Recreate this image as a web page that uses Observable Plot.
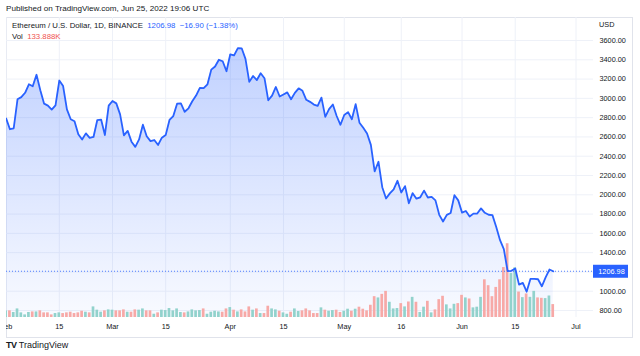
<!DOCTYPE html>
<html><head><meta charset="utf-8">
<script src="https://cdn.jsdelivr.net/npm/d3@7"></script>
<script src="https://cdn.jsdelivr.net/npm/@observablehq/plot@0.6"></script>
<style>
html,body{margin:0;padding:0;background:#fff;}
body{width:640px;height:356px;position:relative;overflow:hidden;font-family:"Liberation Sans",Arial,sans-serif;color:#131722;}
.t{position:absolute;white-space:nowrap;line-height:1;}
#frame{position:absolute;left:6px;top:17px;width:627px;height:321px;border:1px solid #e0e3eb;box-sizing:border-box;}
#chart{position:absolute;left:6px;top:0;}
</style></head><body>
<div id="frame"></div>
<div id="chart"></div>
<div class="t" style="left:6px;top:5px;font-size:8.1px;">Published on TradingView.com, Jun 25, 2022 19:06 UTC</div>
<div class="t" style="left:12px;top:22px;font-size:7.8px;">Ethereum / U.S. Dollar, 1D, BINANCE&nbsp;&nbsp;<span style="color:#2962ff">1206.98&nbsp;&nbsp;−16.90 (−1.38%)</span></div>
<div class="t" style="left:12px;top:33px;font-size:7.8px;">Vol&nbsp;&nbsp;<span style="color:#ef5350">133.888K</span></div>
<div class="t" style="left:599px;top:21px;font-size:7.3px;">USD</div>
<div class="t" style="left:6px;top:341px;font-size:9px;"><b style="letter-spacing:-0.6px">TV</b>&nbsp;TradingView</div>
<script>
// ---- data ----
const startDate = Date.UTC(2022, 1, 1); // Feb 1, 2022, daily bars
const prices = [
  // Feb
  2792, 2680, 2690, 2990, 3013, 3058, 3146, 3125, 3245, 3085, 2945, 2925, 2883, 2928, 3185, 3128, 2886, 2783, 2763, 2627, 2573, 2637, 2591, 2600, 2775, 2780, 2620, 2925,
  // Mar
  2973, 2948, 2834, 2617, 2663, 2551, 2497, 2574, 2727, 2607, 2557, 2568, 2517, 2592, 2619, 2776, 2816, 2945, 2947, 2861, 2897, 2970, 3029, 3109, 3107, 3146, 3298, 3330, 3400, 3385, 3281,
  // Apr
  3457, 3445, 3521, 3519, 3410, 3171, 3232, 3190, 3261, 3209, 2980, 3029, 3118, 3019, 3040, 3062, 2991, 3057, 3104, 3078, 2985, 2964, 2936, 2922, 3008, 2808, 2888, 2936, 2817, 2726,
  // May
  2827, 2857, 2783, 2940, 2748, 2695, 2636, 2518, 2242, 2343, 2079, 1962, 2015, 2055, 2145, 2024, 2090, 1912, 2017, 1960, 1974, 2043, 1972, 1978, 1942, 1792, 1723, 1792, 1811, 1996, 1942,
  // Jun
  1815, 1832, 1775, 1805, 1806, 1859, 1813, 1793, 1789, 1665, 1529, 1436, 1208, 1212, 1235, 1068, 1086, 995, 1127, 1128, 1124, 1051, 1143, 1225, 1206.98
];
const volumesK = [
  // Feb
  69, 69, 52, 89, 48, 27, 52, 58, 58, 69, 48, 48, 27, 41, 48, 41, 48, 55, 41, 48, 65, 55, 48, 110, 76, 55, 69, 79,
  // Mar
  76, 69, 69, 79, 55, 55, 79, 76, 89, 69, 69, 34, 48, 76, 72, 93, 69, 89, 52, 48, 58, 79, 69, 72, 89, 34, 55, 65, 58, 55, 89,
  // Apr
  103, 76, 58, 79, 58, 110, 76, 89, 41, 41, 117, 89, 79, 65, 48, 34, 55, 89, 62, 69, 89, 69, 41, 41, 100, 76, 65, 72, 76, 52,
  // May
  65, 86, 65, 86, 107, 86, 69, 127, 216, 203, 240, 271, 158, 89, 93, 144, 110, 161, 209, 158, 52, 107, 168, 48, 79, 185, 220, 131, 89, 137, 144,
  // Jun
  230, 203, 192, 100, 107, 209, 391, 330, 216, 312, 391, 518, 765, 456, 515, 264, 206, 244, 209, 271, 203, 199, 196, 223, 133.888
];
const priceTicks = [800, 1000, 1400, 1600, 1800, 2000, 2200, 2400, 2600, 2800, 3000, 3200, 3400, 3600];
const priceGrid = [800, 1000, 1200, 1400, 1600, 1800, 2000, 2200, 2400, 2600, 2800, 3000, 3200, 3400, 3600];
const tickDates = [
  Date.UTC(2022,1,1), Date.UTC(2022,1,15), Date.UTC(2022,2,1), Date.UTC(2022,2,15),
  Date.UTC(2022,3,1), Date.UTC(2022,3,15), Date.UTC(2022,4,1), Date.UTC(2022,4,16),
  Date.UTC(2022,5,1), Date.UTC(2022,5,15), Date.UTC(2022,6,1)
];
const tickLabels = ["Feb", "15", "Mar", "15", "Apr", "15", "May", "16", "Jun", "15", "Jul"];
const lastPrice = 1206.98;

// ---- build ----
const DAY = 864e5;
const rows = prices.map((p, i) => ({
  date: new Date(startDate + i * DAY),
  price: p,
  vol: volumesK[i],
  up: i === 0 ? true : p >= prices[i - 1]
}));
const labelMap = new Map(tickDates.map((d, i) => [d, tickLabels[i]]));
const xDomain = [new Date(startDate + 0.1 * DAY), new Date(startDate + 154.6 * DAY)];
const yDomain = [727.4, 3838.6];
const volK = 1.0; // volume (K) to price-pane units
const halfBar = 8.5 * 36e5;
const teal = "#92d2cc", red = "#f7a9a7", blue = "#2962ff", gridColor = "#eef1f8";

const chart = Plot.plot({
  width: 634, height: 356,
  marginTop: 17, marginBottom: 39, marginLeft: 0, marginRight: 47,
  style: {fontFamily: '"Liberation Sans", Arial, sans-serif', fontSize: "7.3px", color: "#131722", background: "transparent", overflow: "hidden"},
  x: {type: "utc", domain: xDomain, ticks: tickDates.map(d => new Date(d)), tickFormat: d => labelMap.get(+d), tickSize: 0, tickPadding: 6, label: null},
  y: {domain: yDomain, axis: "right", ticks: priceTicks, tickFormat: d => d.toFixed(2), tickSize: 0, tickPadding: 6, label: null},
  marks: [
    Plot.ruleY(priceGrid, {stroke: gridColor, strokeWidth: 1}),
    Plot.ruleX(tickDates.map(d => new Date(d)), {stroke: gridColor, strokeWidth: 1}),
    Plot.areaY(rows, {x: "date", y1: yDomain[0], y2: "price", fill: "url(#areaGrad)"}),
    Plot.rect(rows.filter(d => d.up), {x1: d => new Date(+d.date - halfBar), x2: d => new Date(+d.date + halfBar), y1: yDomain[0], y2: d => yDomain[0] + d.vol * volK, fill: teal}),
    Plot.rect(rows.filter(d => !d.up), {x1: d => new Date(+d.date - halfBar), x2: d => new Date(+d.date + halfBar), y1: yDomain[0], y2: d => yDomain[0] + d.vol * volK, fill: red}),
    Plot.ruleY([lastPrice], {stroke: blue, strokeDasharray: "1,2", strokeOpacity: 0.8}),
    Plot.line(rows, {x: "date", y: "price", stroke: blue, strokeWidth: 1.8}),
    Plot.rect([lastPrice], {x1: xDomain[1], x2: xDomain[1], y1: d => d, y2: d => d, insetRight: -35, insetTop: -6, insetBottom: -7, fill: blue}),
    Plot.text([lastPrice], {x: xDomain[1], y: d => d, text: d => d.toFixed(2), dx: 18, fill: "white", textAnchor: "middle", fontSize: 7.3})
  ]
});
const svg = chart.tagName.toLowerCase() === "svg" ? chart : chart.querySelector("svg");
const defs = document.createElementNS("http://www.w3.org/2000/svg", "defs");
defs.innerHTML = '<linearGradient id="areaGrad" gradientUnits="userSpaceOnUse" x1="0" y1="40" x2="0" y2="317">' +
  '<stop offset="0" stop-color="#2962ff" stop-opacity="0.3"/>' +
  '<stop offset="1" stop-color="#2962ff" stop-opacity="0.03"/></linearGradient>';
svg.insertBefore(defs, svg.firstChild);
document.getElementById("chart").appendChild(chart);
</script>
</body></html>
